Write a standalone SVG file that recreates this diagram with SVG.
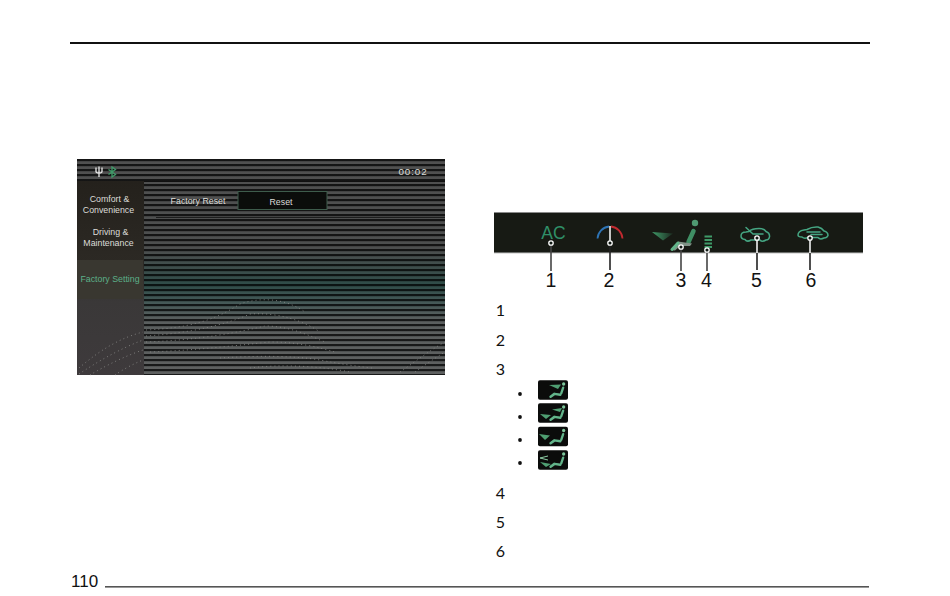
<svg xmlns="http://www.w3.org/2000/svg" xmlns:xlink="http://www.w3.org/1999/xlink" width="950" height="596" viewBox="0 0 950 596">
<style>
.ui{font-family:"Liberation Sans",Arial,sans-serif;font-size:8.8px;fill:#dcdcd8;text-anchor:middle}
.num{font-family:"Liberation Sans",Arial,sans-serif;font-size:19.5px;fill:#111;text-anchor:middle}
.gill{font-family:Lato,"Liberation Sans",sans-serif;font-size:16px;fill:#111;text-anchor:middle}
.lead{stroke:#222;stroke-width:1.6;fill:none}
.leadw{stroke:#fff;stroke-width:1.5;fill:none}
.dot{fill:#111a14;stroke:#fff;stroke-width:1.3}
.car{fill:none;stroke:#45a582;stroke-width:1.5;stroke-linejoin:round;stroke-linecap:round}
.seat{fill:none;stroke:#62b48a;stroke-linecap:round;stroke-linejoin:round}
.pts{fill:none;stroke:#8a8a88;stroke-width:.9;stroke-dasharray:.9 3.2}
.thumb{fill:#0b0c0b}
</style>
<defs>
<pattern id="stripes" patternUnits="userSpaceOnUse" x="0" y="159" width="10" height="5">
<rect width="10" height="2.200" y="0" fill="#000" fill-opacity=".74"/>
</pattern>
<linearGradient id="field" x1="0" y1="0" x2="0" y2="1">
<stop offset="0" stop-color="#505050"/>
<stop offset=".42" stop-color="#4c4e4e"/>
<stop offset=".58" stop-color="#2f4c48"/>
<stop offset=".66" stop-color="#435856"/>
<stop offset=".75" stop-color="#5a5e5e"/>
<stop offset="1" stop-color="#5e6060"/>
</linearGradient>
<linearGradient id="side" x1="0" y1="0" x2="0" y2="1">
<stop offset="0" stop-color="#24211c"/>
<stop offset=".42" stop-color="#2c2924"/>
<stop offset=".62" stop-color="#3a3838"/>
<stop offset="1" stop-color="#3e3a3c"/>
</linearGradient>
<linearGradient id="flow" x1="0" y1="0" x2="1" y2="0">
<stop offset="0" stop-color="#3f9a68"/>
<stop offset="1" stop-color="#1c2a20"/>
</linearGradient>
<symbol id="mini" viewBox="0 0 31 20" overflow="visible">
<rect class="thumb" width="31" height="20" rx="2"/>
<circle cx="26.500" cy="3.800" r="1.700" fill="#7cc59a"/>
<path class="seat" stroke-width="2.400" d="M26 7.500L24 13.500"/>
<path class="seat" stroke-width="2.600" d="M13 17L17 14L23 15"/>
</symbol>
</defs>

<rect width="950" height="596" fill="#fff"/>
<g id="page-rules">
<rect x="70" y="42" width="800" height="2" fill="#111"/>
<rect x="105" y="586" width="764" height="1.600" fill="#555"/>
<text x="71" y="587" font-family="Liberation Sans, Arial, sans-serif" font-size="17" fill="#111">110</text>
</g>

<g id="screen">
<rect x="77" y="159" width="368" height="216" fill="url(#field)"/>
<rect x="144" y="159" width="301" height="216" fill="url(#stripes)"/>
<rect x="77" y="159" width="67" height="22" fill="url(#stripes)"/>
<rect x="77" y="181" width="67" height="194" fill="url(#side)"/>
<rect x="77" y="260" width="66" height="39" fill="#393730"/>
<rect x="144" y="181" width="301" height="1" fill="#111"/>
<path d="M156 217.500H445M155 255.500H445" stroke="#111" stroke-width=".8"/>
<g id="terrain">
<path class="pts" d="M146 330C190 328 215 320 240 304C260 297 285 298 305 312"/>
<path class="pts" d="M146 336C190 333 225 325 250 314C280 312 305 322 320 332"/>
<path class="pts" d="M146 342C200 340 240 332 265 326C290 326 310 336 325 342"/>
<path class="pts" d="M150 352C200 350 240 345 270 342C300 342 320 348 335 352"/>
<path class="pts" d="M220 358C250 356 290 355 320 360C340 364 355 366 372 368"/>
<path class="pts" d="M250 368C280 364 320 366 350 372"/>
<path class="pts" d="M400 372C415 362 430 350 445 342"/>
<path class="pts" d="M415 372C425 365 435 358 445 352"/>
<path class="pts" d="M79 368C100 350 120 338 143 332"/>
<path class="pts" d="M79 374C100 360 122 348 143 340"/>
<path class="pts" d="M90 375C105 366 125 356 143 350"/>
<path class="pts" d="M115 375C122 370 133 364 143 360"/>
</g>
<path id="usb" d="M99 166.500V177M96 167.500V171.500Q96 173 99 173Q102 173 102 171.500V167.500" fill="none" stroke="#e8e8e8" stroke-width="1.300"/>
<path id="bluetooth" d="M108.500 169.500L115.500 174.500L112 177V167L115.500 169.500L108.500 174.500" fill="none" stroke="#3f9a68" stroke-width="1.300"/>
<text class="ui" x="413" y="175" style="font-size:9.800px;letter-spacing:.9px">00:02</text>
<text class="ui" x="109.500" y="202">Comfort &amp;</text>
<text class="ui" x="108.500" y="212.500">Convenience</text>
<text class="ui" x="110.500" y="235">Driving &amp;</text>
<text class="ui" x="108.500" y="245.500">Maintenance</text>
<text class="ui" x="110" y="282" style="fill:#5cb088">Factory Setting</text>
<text class="ui" x="198" y="204">Factory Reset</text>
<rect x="238" y="191.500" width="89" height="18" fill="#0b0d0b" stroke="#3e5c4c" stroke-width="1"/>
<text class="ui" x="281" y="204.500">Reset</text>
</g>

<g id="climate-bar">
<rect x="494" y="212" width="369" height="41" fill="#171a14"/>
<path d="M494 212.500H863" stroke="#8a8a8a" stroke-width="1"/>
<path d="M494 253H863" stroke="#c4c4c4" stroke-width="1"/>
</g>
<g id="icon-ac"><text x="553.500" y="239" font-family="Liberation Sans, Arial, sans-serif" font-size="17.500" fill="#2f8f68" text-anchor="middle">AC</text></g>
<g id="icon-temp" fill="none" stroke-width="1.800">
<path d="M597.500 238.500A13 13 0 0 1 609 226.500" stroke="#2e74b5"/>
<path d="M611 226.500A13 13 0 0 1 622.500 238.500" stroke="#c22a30"/>
</g>
<g id="icon-seat">
<path d="M652 232L673 233.500L663 240.500Z" fill="url(#flow)"/>
<circle cx="695" cy="223" r="3.200" fill="#4f9a72"/>
<path d="M693.500 231L688.500 242" fill="none" stroke="#3f8f64" stroke-width="4.500" stroke-linecap="round"/>
<path d="M671 250L678 241.500L692 243.500L690 246L680 246L675 250.500Z" fill="#7f9286"/>
<path class="seat" stroke-width="3" d="M672 249.500L678 243"/>
</g>
<g id="icon-fan" fill="#3f9a68">
<rect x="704.500" y="235.500" width="7.500" height="2"/>
<rect x="704.500" y="239" width="7.500" height="2"/>
<rect x="704.500" y="242.500" width="7.500" height="2"/>
<rect x="704.500" y="246" width="7.500" height="2"/>
</g>
<g id="icon-recirc">
<path class="car" d="M741 236Q741 232 746 232L749 231.500Q752 228.500 759 228.500Q764 228.500 766 231.500Q770 233 769.500 237Q769 240 766 240Q762 242.500 760 240L751 240Q747 242.500 745 239.500Q741 239 741 236Z"/>
<path class="car" d="M746 227.500L753 234L763 234"/>
</g>
<g id="icon-fresh">
<path class="car" d="M798 235Q798 231 804 230L807 229.500Q812 226.500 818 227Q822 228 824 231Q828 232 828 235.500Q827 238 824 238Q820 240 818 237.500L808 237.500Q804 239 802 237Q798 237 798 235Z"/>
<path class="car" d="M807 232L820 232M811 234.500L822 234.500"/>
</g>

<g id="connectors">
<path class="lead" d="M551 245V271" style="stroke:#444"/>
<path class="leadw" d="M610 226V241"/><path class="lead" d="M610 245V270"/>
<path class="lead" d="M681 249V271" style="stroke:#444"/>
<path class="lead" d="M707 252V271" style="stroke:#444"/>
<path class="leadw" d="M757 240V253"/><path class="lead" d="M757 253V270"/>
<path class="leadw" d="M810 240V253"/><path class="lead" d="M810 253V270"/>
<circle class="dot" cx="551" cy="243" r="2.200"/>
<circle class="dot" cx="610" cy="243" r="2.200"/>
<circle class="dot" cx="681" cy="247" r="2.200"/>
<circle class="dot" cx="707" cy="250" r="2.200"/>
<circle class="dot" cx="757" cy="238" r="2.200"/>
<circle class="dot" cx="810" cy="238" r="2.200"/>
</g>

<g id="callouts">
<text class="num" x="551" y="286.500">1</text>
<text class="num" x="609" y="286.500">2</text>
<text class="num" x="681" y="286.500">3</text>
<text class="num" x="706.500" y="286.500">4</text>
<text class="num" x="756.500" y="286.500">5</text>
<text class="num" x="811" y="286.500">6</text>
</g>

<g id="list-numbers">
<text class="gill" x="500.500" y="316">1</text>
<text class="gill" x="500.500" y="346">2</text>
<text class="gill" x="500.500" y="375">3</text>
<text class="gill" x="500.500" y="499">4</text>
<text class="gill" x="500.500" y="528">5</text>
<text class="gill" x="500.500" y="557">6</text>
</g>

<g id="seat-modes">
<g fill="#111"><circle cx="520" cy="394" r="1.900"/><circle cx="520" cy="417" r="1.900"/><circle cx="520" cy="440" r="1.900"/><circle cx="520" cy="463" r="1.900"/></g>
<g id="mode-1"><use xlink:href="#mini" href="#mini" x="538" y="380" width="30" height="20"/><path d="M549 385L561 384.500L558 389Z" fill="#4f9f72"/></g>
<g id="mode-2"><use xlink:href="#mini" href="#mini" x="538" y="403" width="30" height="20"/><path d="M552 409.500L562 408L560 412Z" fill="#4f9f72"/><path d="M540 414L551 415L546 419Z" fill="#4f9f72"/></g>
<g id="mode-3"><use xlink:href="#mini" href="#mini" x="538" y="426.500" width="30" height="20"/><path d="M539 434L550 435.500L545 440Z" fill="#4f9f72"/></g>
<g id="mode-4"><use xlink:href="#mini" href="#mini" x="538" y="450" width="30" height="20"/><path d="M540 458L548 456M540 458L548 460" stroke="#8ccca4" fill="none"/><path d="M540 462L551 464L546 467Z" fill="#4f9f72"/></g>
</g>
</svg>
